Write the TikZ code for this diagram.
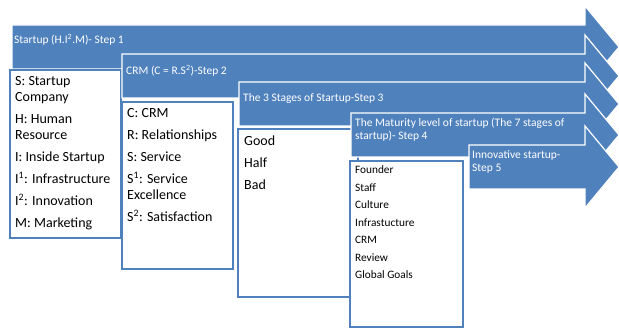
\documentclass[tikz,border=0pt]{standalone}
\usepackage{fontspec}
\setmainfont{Carlito}
\definecolor{stepblue}{HTML}{4F81BD}
\tikzset{
  steparrow/.style={fill=stepblue, draw=white, line width=1.2pt, line join=miter},
  listbox/.style={fill=white, draw=stepblue, line width=1.5pt},
  arrowtext/.style={anchor=base west, inner sep=0pt, text=white, align=left, font=\fontsize{11.5}{13}\selectfont},
  bigtext/.style={anchor=base west, inner sep=0pt, align=left, font=\fontsize{14}{16}\selectfont},
  smalltext/.style={anchor=base west, inner sep=0pt, align=left, font=\fontsize{11.3}{17.5}\selectfont}
}
\begin{document}
\begin{tikzpicture}[x=1pt,y=-1pt]
\useasboundingbox (0,0) rectangle (619,328);
% step 1 (text nodes: base = last line)
\path[steparrow] (12,25) -- (585,25) -- (585,6) -- (619,47) -- (585,88) -- (585,69) -- (12,69) -- cycle;
\node[arrowtext] (a1) at (14,44) {Startup (H.I\textsuperscript{2}.M)- Step 1};
\path[listbox] (10,70) rectangle (121,238);
\node[bigtext] (l1) at (15,228) {S: Startup\\Company\\[6pt]H: Human\\Resource\\[6pt]I: Inside Startup\\[6pt]I\textsuperscript{1}: Infrastructure\\[6pt]I\textsuperscript{2}: Innovation\\[6pt]M: Marketing};
% step 2
\path[steparrow] (122,54) -- (585,54) -- (585,35) -- (619,76) -- (585,117) -- (585,98) -- (122,98) -- cycle;
\node[arrowtext] (a2) at (126,75) {CRM (C = R.S\textsuperscript{2})-Step 2};
\path[listbox] (122,102) rectangle (233,269);
\node[bigtext] (l2) at (127,222) {C: CRM\\[6pt]R: Relationships\\[6pt]S: Service\\[6pt]S\textsuperscript{1}: Service\\Excellence\\[6pt]S\textsuperscript{2}: Satisfaction};
% step 3
\path[steparrow] (239,82) -- (585,82) -- (585,63) -- (619,104) -- (585,145) -- (585,126) -- (239,126) -- cycle;
\node[arrowtext] (a3) at (243,102) {The 3 Stages of Startup-Step 3};
\path[listbox] (238,129) rectangle (358,297);
\node[bigtext] (l3) at (244,190) {Good\\[6pt]Half\\[6pt]Bad};
% step 4
\path[steparrow] (351,113) -- (585,113) -- (585,94) -- (619,135) -- (585,176) -- (585,157) -- (351,157) -- cycle;
\node[arrowtext] (a4) at (355,140) {The Maturity level of startup (The 7 stages of\\startup)- Step 4};
\path[listbox] (350,161) rectangle (463,327);
\node[smalltext] (l4) at (355,279) {Founder\\Staff\\Culture\\Infrastucture\\CRM\\Review\\Global Goals};
% step 5
\path[steparrow] (469,145) -- (585,145) -- (585,126) -- (619,167) -- (585,208) -- (585,189) -- (469,189) -- cycle;
\node[arrowtext] (a5) at (472,172) {Innovative startup-\\Step 5};
\end{tikzpicture}
\end{document}
